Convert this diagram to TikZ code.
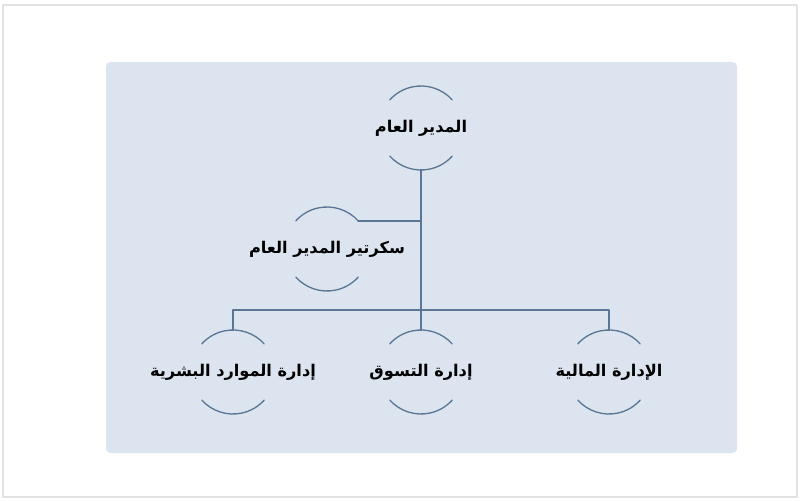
\documentclass[tikz,border=0pt]{standalone}
\usepackage{fontspec}
\TeXXeTstate=1
\newfontfamily\arabicfont[Script=Arabic]{DejaVu Sans}
\definecolor{panel}{HTML}{DCE4F0}
\definecolor{edge}{HTML}{5B7594}
\definecolor{frame}{HTML}{E2E2E2}
\begin{document}
\begin{tikzpicture}[x=0.02cm,y=0.02cm,line join=round,line cap=round,
		unit/.style={circle,minimum size=1.68cm,inner sep=0pt,outer sep=0pt,label={center:#1}},
		every label/.style={font=\arabicfont\bfseries\fontsize{9.2}{11}\selectfont},
		link/.style={draw=edge,line width=0.85pt},
		ring/.style={draw=edge,line width=0.75pt}]
			\def\rad{42}
			\useasboundingbox (0,0) rectangle (800,500);
			\draw [frame, line width=0.6pt] (3,3) rectangle (797,495);
			\fill [panel, rounded corners=2.5pt] (106,47) rectangle (737,438);
			% units
			\node [unit={\beginR المدير العام\endR}] (gm) at (421,372) {};
			\node [unit={\beginR سكرتير المدير العام\endR}] (sec) at (327,251) {};
			\node [unit={\beginR إدارة الموارد البشرية\endR}] (hr) at (233,128) {};
			\node [unit={\beginR إدارة التسوق\endR}] (mkt) at (421,128) {};
			\node [unit={\beginR الإدارة المالية\endR}] (fin) at (609,128) {};
			\coordinate (bar) at (421,190);
			\foreach \n in {gm,sec,hr,mkt,fin} {
				\draw [ring] (\n.42) arc [start angle=42, end angle=138, radius=\rad];
				\draw [ring] (\n.222) arc [start angle=222, end angle=318, radius=\rad];
			}
			% links
			\draw [link] (gm.south)--(mkt.north);
			\draw [link] (sec.42)--(sec.42 -| gm.south);
			\draw [link] (hr.north) |- (bar) -| (fin.north);
		\end{tikzpicture}
\end{document}
